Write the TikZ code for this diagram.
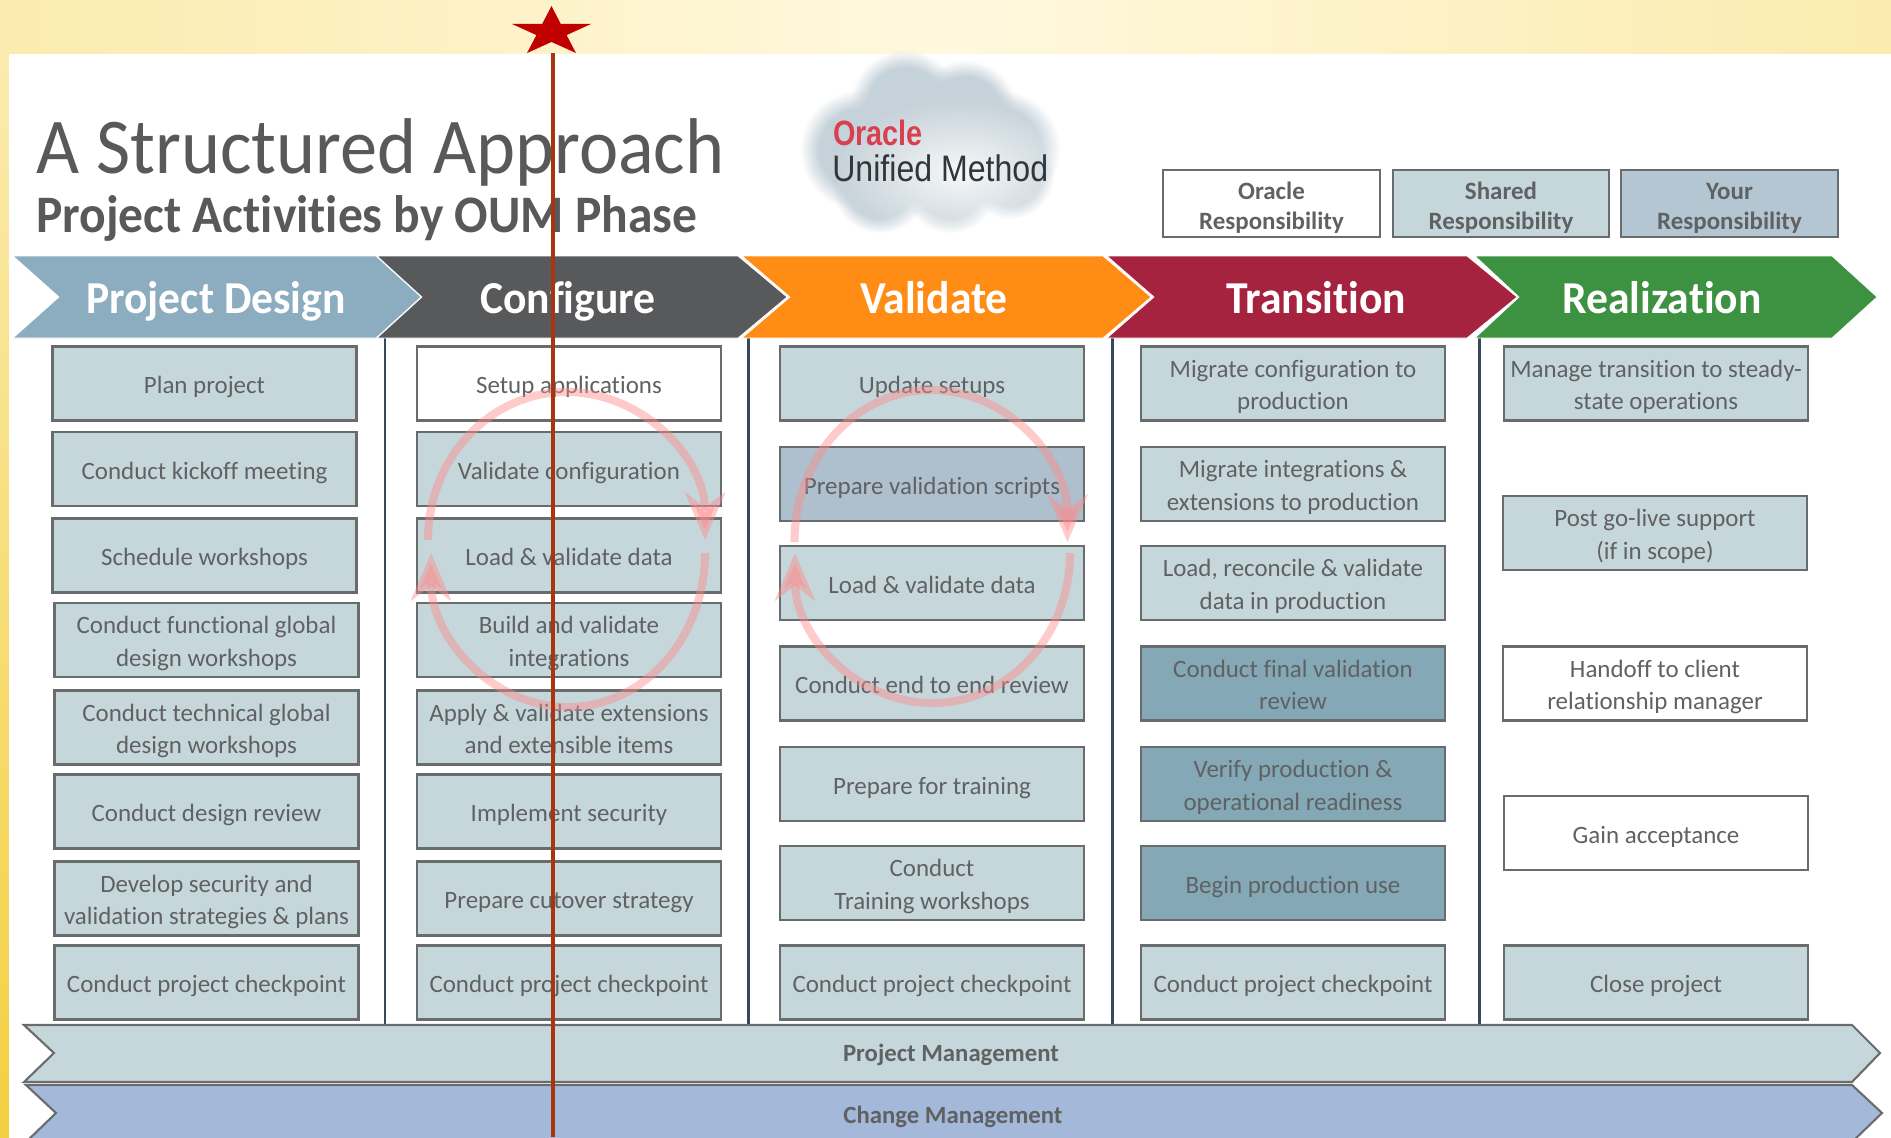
\documentclass[tikz,border=0pt]{standalone}
\usepackage{fontspec}
\setmainfont{Carlito}[Ligatures=CommonOff]
\newfontfamily\logofont{Liberation Sans}
\usetikzlibrary{arrows.meta,shapes.geometric,fadings}
\pgfdeclarelayer{bg}
\pgfsetlayers{bg,main}
\pgfdeclareradialshading{puffshade}{\pgfpointorigin}{color(0bp)=(pgftransparent!0); color(17bp)=(pgftransparent!0); color(25bp)=(pgftransparent!100); color(50bp)=(pgftransparent!100)}
\pgfdeclarefading{pufffade}{\pgfuseshading{puffshade}}
\pgfdeclareradialshading{glowshade}{\pgfpointorigin}{color(0bp)=(pgftransparent!0); color(25bp)=(pgftransparent!100); color(50bp)=(pgftransparent!100)}
\pgfdeclarefading{glowfade}{\pgfuseshading{glowshade}}
\definecolor{boxfill}{HTML}{C6D7DC}
\definecolor{yourfill}{HTML}{B3C6D2}
\definecolor{scriptfill}{HTML}{AEBFCD}
\definecolor{finalfill}{HTML}{84A8B6}
\definecolor{boxline}{HTML}{696C6D}
\definecolor{inktext}{HTML}{5F6163}
\definecolor{titletext}{HTML}{58595B}
\definecolor{cloudgrey}{HTML}{C6D2D9}
\definecolor{cyclepink}{HTML}{FF8A8A}
\definecolor{bandpale}{HTML}{FBEBAE}
\definecolor{bandlight}{HTML}{FFF8DE}
\definecolor{banddeep}{HTML}{F3D040}
\definecolor{rulecolor}{HTML}{34495E}
\definecolor{markerline}{HTML}{A93410}
\definecolor{markerstar}{HTML}{C00000}
\definecolor{designfill}{HTML}{8CACBF}
\definecolor{configfill}{HTML}{58595B}
\definecolor{validfill}{HTML}{FF8C14}
\definecolor{transfill}{HTML}{A6233F}
\definecolor{realfill}{HTML}{3C9241}
\definecolor{changefill}{HTML}{A4B9D9}
\definecolor{oraclered}{HTML}{D9404F}
\definecolor{methodink}{HTML}{30363A}
\tikzset{
        taskbox/.style={draw=boxline, line width=1.2pt, fill=boxfill, text=inktext, align=center,
                minimum width=6.08cm, minimum height=1.48cm, inner sep=0pt,
                font=\fontsize{14.2}{18.7}\selectfont,
                execute at begin node={\rule{0pt}{14.5pt}},
                execute at end node={\rule[-3pt]{0pt}{0pt}}},
        twoline/.style={execute at begin node={\rule{0pt}{33pt}}},
        whitebox/.style={taskbox, fill=white},
        scriptbox/.style={taskbox, fill=scriptfill},
        finalbox/.style={taskbox, fill=finalfill},
        legendbox/.style={taskbox, twoline, minimum width=4.33cm, minimum height=1.33cm,
                font=\fontsize{14.2}{17}\selectfont\bfseries},
        phaselabel/.style={anchor=base, text=white, inner sep=0pt, xscale=.955, transform shape,
                font=\fontsize{26}{30}\selectfont\bfseries},
        barlabel/.style={text=inktext, inner sep=0pt, font=\fontsize{14.1}{15}\selectfont\bfseries},
        bararrow/.style={draw=boxline, line width=1.2pt},
        rulerline/.style={line width=1.7pt, color=rulecolor},
        phasearrow/.style={draw=white},
        cyclearrow/.style={draw=cyclepink, draw opacity=.45, fill opacity=.45, line width=4.6pt,
                -{Stealth[length=.95cm, width=.8cm, inset=.3cm, fill=cyclepink]}},
        puff/.style={fill=cloudgrey, path fading=pufffade},
}
\begin{document}
\begin{tikzpicture}[x=0.02cm, y=-0.02cm]
        \useasboundingbox (0,0) rectangle (1891,1137);
        \clip (0,0) rectangle (1891,1137);
        \begin{pgfonlayer}{bg}
                \shade [left color=bandpale, right color=bandpale, middle color=bandlight] (0,0) rectangle (1891,54);
                \shade [top color=bandpale, bottom color=banddeep] (0,54) rectangle (9,1137);
                \fill [white] (9,54) rectangle (1891,1137);
                \draw [rulerline] (385,338) -- (385,1025);
                \draw [rulerline] (748,338) -- (748,1025);
                \draw [rulerline] (1112,338) -- (1112,1025);
                \draw [rulerline] (1479,338) -- (1479,1025);
        \end{pgfonlayer}

        % title
        \node (title) [anchor=base west, text=titletext, inner sep=0pt, xscale=.94, transform shape, font=\fontsize{45}{50}\selectfont] at (36,173) {A Structured Approach};
        \node (subtitle) [anchor=base west, text=titletext, inner sep=0pt, xscale=.94, transform shape, font=\fontsize{30}{34}\selectfont\bfseries] at (36,232) {Project Activities by OUM Phase};

        % cloud
        \fill [puff] (905,105) circle [radius=55];
        \fill [puff] (965,112) circle [radius=52];
        \fill [puff] (860,150) circle [radius=60];
        \fill [puff] (1000,150) circle [radius=60];
        \fill [puff] (880,185) circle [radius=48];
        \fill [puff] (950,185) circle [radius=48];
        \fill [puff] (1010,175) circle [radius=44];
        \fill [puff] (930,145) circle [radius=70];
        \fill [white, opacity=.85, path fading=glowfade] (960,172) ellipse [x radius=125, y radius=72];
        \node (oracle) [anchor=base west, text=oraclered, inner sep=0pt, xscale=.82, transform shape, font=\logofont\fontsize{20}{24}\selectfont\bfseries] at (833,145) {Oracle};
        \node (method) [anchor=base west, text=methodink, inner sep=0pt, xscale=.87, transform shape, font=\logofont\fontsize{21}{24}\selectfont] at (832,181.5) {Unified Method};

        % legend
        \node (oracleresp) [legendbox, fill=white] at (1271.5,203.5) {Oracle\\Responsibility};
        \node (sharedresp) [legendbox] at (1501,203.5) {Shared\\Responsibility};
        \node (yourresp) [legendbox, fill=yourfill] at (1729.5,203.5) {Your\\Responsibility};

        % phases
        \fill [phasearrow, fill=designfill] (13,256) -- (376,256) -- (421,297) -- (376,338) -- (13,338) -- (59,297) -- cycle;
        \fill [phasearrow, fill=configfill] (377,256) -- (738,256) -- (787,297) -- (738,338) -- (377,338) -- (422,297) -- cycle;
        \fill [phasearrow, fill=validfill] (742,256) -- (1103,256) -- (1151,297) -- (1103,338) -- (742,338) -- (790,297) -- cycle;
        \fill [phasearrow, fill=transfill] (1107,256) -- (1467,256) -- (1517,297) -- (1467,338) -- (1107,338) -- (1154,297) -- cycle;
        \fill [phasearrow, fill=realfill] (1475,256) -- (1832,256) -- (1877,297) -- (1832,338) -- (1475,338) -- (1519,297) -- cycle;
        \node (design) [phaselabel] at (216,313.5) {Project Design};
        \node (configure) [phaselabel] at (568,313.5) {Configure};
        \node (validate) [phaselabel] at (934,313.5) {Validate};
        \node (transition) [phaselabel] at (1316,313.5) {Transition};
        \node (realization) [phaselabel] at (1662,313.5) {Realization};

        % project design column
        \node (d1) [taskbox] at (204.5,383.5) {Plan project};
        \node (d2) [taskbox] at (204.5,469) {Conduct kickoff meeting};
        \node (d3) [taskbox] at (204.5,555.5) {Schedule workshops};
        \node (d4) [taskbox, twoline] at (206.5,640) {Conduct functional global\\design workshops};
        \node (d5) [taskbox, twoline] at (206.5,727.5) {Conduct technical global\\design workshops};
        \node (d6) [taskbox] at (206.5,811.5) {Conduct design review};
        \node (d7) [taskbox, twoline] at (206.5,898.5) {Develop security and\\validation strategies \& plans};
        \node (d8) [taskbox] at (206.5,982.5) {Conduct project checkpoint};

        % configure column
        \node (c1) [whitebox] at (569,383.5) {Setup applications};
        \node (c2) [taskbox] at (569,469) {Validate configuration};
        \node (c3) [taskbox] at (569,555.5) {Load \& validate data};
        \node (c4) [taskbox, twoline] at (569,640) {Build and validate\\integrations};
        \node (c5) [taskbox, twoline] at (569,727.5) {Apply \& validate extensions\\and extensible items};
        \node (c6) [taskbox] at (569,811.5) {Implement security};
        \node (c7) [taskbox] at (569,898.5) {Prepare cutover strategy};
        \node (c8) [taskbox] at (569,982.5) {Conduct project checkpoint};

        % validate column
        \node (v1) [taskbox] at (932,383.5) {Update setups};
        \node (v2) [scriptbox] at (932,484) {Prepare validation scripts};
        \node (v3) [taskbox] at (932,583) {Load \& validate data};
        \node (v4) [taskbox] at (932,683.5) {Conduct end to end review};
        \node (v5) [taskbox] at (932,784) {Prepare for training};
        \node (v6) [taskbox, twoline] at (932,883) {Conduct\\Training workshops};
        \node (v7) [taskbox] at (932,982.5) {Conduct project checkpoint};

        % transition column
        \node (t1) [taskbox, twoline] at (1293,383.5) {Migrate configuration to\\production};
        \node (t2) [taskbox, twoline] at (1293,484) {Migrate integrations \&\\extensions to production};
        \node (t3) [taskbox, twoline] at (1293,583) {Load, reconcile \& validate\\data in production};
        \node (t4) [finalbox, twoline] at (1293,683.5) {Conduct final validation\\review};
        \node (t5) [finalbox, twoline] at (1293,784) {Verify production \&\\operational readiness};
        \node (t6) [finalbox] at (1293,883) {Begin production use};
        \node (t7) [taskbox] at (1293,982.5) {Conduct project checkpoint};

        % realization column
        \node (r1) [taskbox, twoline] at (1656,383.5) {Manage transition to steady-\\state operations};
        \node (r2) [taskbox, twoline] at (1655,533) {Post go-live support\\(if in scope)};
        \node (r3) [whitebox, twoline] at (1655,683.5) {Handoff to client\\relationship manager};
        \node (r4) [whitebox] at (1656,833) {Gain acceptance};
        \node (r5) [taskbox] at (1656,982.5) {Close project};

        % management bars
        \filldraw [bararrow, fill=boxfill] (24,1025) -- (1852,1025) -- (1880,1053) -- (1852,1082) -- (24,1082) -- (54,1053) -- cycle;
        \filldraw [bararrow, fill=changefill] (26,1085) -- (1852,1085) -- (1882,1113) -- (1852,1142) -- (26,1142) -- (56,1113) -- cycle;
        \node (pm) [barlabel] at (951,1055) {Project Management};
        \node (cm) [barlabel] at (953,1117) {Change Management};

        % cycles
        \coordinate (cfgleft) at (428,540);
        \coordinate (cfgright) at (705,553);
        \coordinate (valleft) at (794.5,542);
        \coordinate (valright) at (1070,553);
        \draw [cyclearrow] (cfgleft) arc [start angle=180, end angle=360, x radius=138.5, y radius=148];
        \draw [cyclearrow] (cfgright) arc [start angle=0, end angle=180, x radius=137, y radius=154];
        \draw [cyclearrow] (valleft) arc [start angle=180, end angle=360, x radius=136.5, y radius=152];
        \draw [cyclearrow] (valright) arc [start angle=0, end angle=180, x radius=137.5, y radius=150];

        % marker
        \coordinate (markertop) at (553,53);
        \coordinate (markerend) at (553,1137);
        \node (marker) [star, star points=5, star point ratio=2.618, fill=markerstar, inner sep=0pt, minimum size=1.04cm, xscale=1.6, transform shape] at (551.5,32) {};
        \draw [line width=2.8pt, color=markerline] (markertop) -- (markerend);
\end{tikzpicture}
\end{document}
